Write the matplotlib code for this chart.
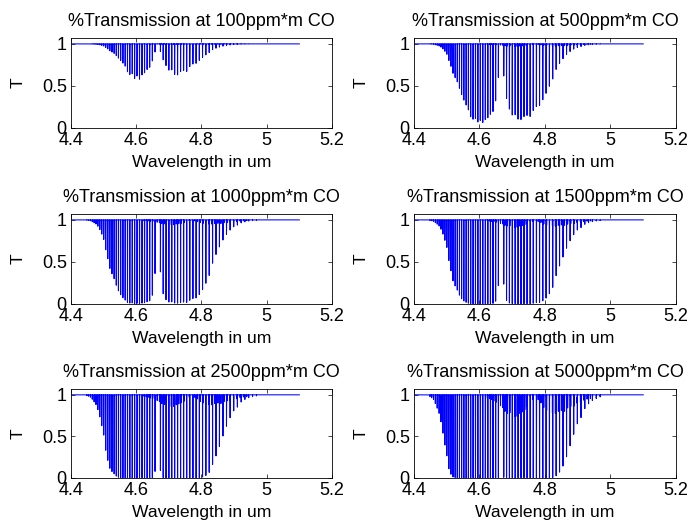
import numpy as np
import matplotlib
matplotlib.use('Agg')
from matplotlib import pyplot as plt

plt.rcParams['font.family'] = ['Liberation Sans', 'DejaVu Sans']
plt.rcParams['font.size'] = 13

# path concentration for each panel, ppm*m
conc = [100, 500, 1000, 1500, 2500, 5000]

# 12CO R branch, R(0)..R(31): line centre (um) and absorbance at 100 ppm*m
r_wl = [4.6576, 4.6493, 4.6412, 4.6333, 4.6254, 4.6177, 4.6100, 4.6024,
        4.5950, 4.5876, 4.5803, 4.5731, 4.5660, 4.5591, 4.5522, 4.5454,
        4.5387, 4.5321, 4.5256, 4.5191, 4.5128, 4.5065, 4.5004, 4.4943,
        4.4883, 4.4824, 4.4766, 4.4708, 4.4651, 4.4596, 4.4542, 4.4487]
r_abs = [0.115, 0.226, 0.326, 0.411, 0.477, 0.521, 0.544, 0.545,
         0.528, 0.496, 0.452, 0.402, 0.348, 0.294, 0.250, 0.210,
         0.170, 0.136, 0.116, 0.086, 0.062, 0.044, 0.030, 0.021,
         0.014, 0.0089, 0.0057, 0.0035, 0.0022, 0.0013, 0.0008, 0.0005]

# 12CO P branch, P(1)..P(30)
p_wl = [4.6741, 4.6826, 4.6913, 4.7000, 4.7088, 4.7177, 4.7267, 4.7359,
        4.7452, 4.7546, 4.7641, 4.7737, 4.7834, 4.7933, 4.8032, 4.8134,
        4.8236, 4.8339, 4.8444, 4.8550, 4.8658, 4.8766, 4.8876, 4.8987,
        4.9100, 4.9215, 4.9330, 4.9447, 4.9565, 4.9684]
p_abs = [0.109, 0.210, 0.298, 0.368, 0.419, 0.450, 0.460, 0.453,
         0.431, 0.397, 0.355, 0.310, 0.263, 0.218, 0.177, 0.140,
         0.108, 0.082, 0.060, 0.044, 0.031, 0.0215, 0.0146, 0.0097,
         0.0064, 0.0041, 0.0026, 0.0016, 0.0009, 0.0006]

# 13CO lines (weak, only seen at high concentration)
r13_wl = [4.7625, 4.7544, 4.7463, 4.7383, 4.7305, 4.7227, 4.7150, 4.7075,
          4.7000, 4.6926, 4.6853, 4.6781, 4.6711, 4.6641, 4.6572, 4.6504,
          4.6437, 4.6371, 4.6305, 4.6241, 4.6178]
r13_abs = [0.0013, 0.0025, 0.0036, 0.0045, 0.0052, 0.0057, 0.0060, 0.0060,
           0.0058, 0.0055, 0.0050, 0.0044, 0.0038, 0.0032, 0.0027, 0.0021,
           0.0017, 0.0013, 0.0010, 0.0007, 0.0005]
p13_wl = [4.7792, 4.7877, 4.7963, 4.8050, 4.8138, 4.8227, 4.8317, 4.8409,
          4.8501, 4.8596, 4.8691, 4.8786, 4.8884, 4.8982, 4.9082, 4.9183,
          4.9285, 4.9388]
p13_abs = [0.0012, 0.0023, 0.0033, 0.0041, 0.0046, 0.0049, 0.0051, 0.0050,
           0.0047, 0.0044, 0.0039, 0.0034, 0.0029, 0.0024, 0.0019, 0.0015,
           0.0012, 0.0009]

xticks = [4.4, 4.6, 4.8, 5.0, 5.2]
xticklabels = ['4.4', '4.6', '4.8', '5', '5.2']
yticks = [0, 0.5, 1]
yticklabels = ['0', '0.5', '1']

wl = np.array(r_wl + p_wl + r13_wl + p13_wl)
a100 = np.array(r_abs + p_abs + r13_abs + p13_abs)

# sampled spectrum, narrow gaussian lines
x = np.arange(4.4, 5.1 + 1e-9, 1.5e-4)
sig = 1.0e-4
prof = np.exp(-0.5 * ((x[:, None] - wl[None, :]) / sig) ** 2)
absorb = prof @ a100

W, H = 689, 529
fig = plt.figure(figsize=(W / 100, H / 100), dpi=100)

cols = [(71, 261), (414, 262)]
rows = [(38, 128), (214, 304), (389, 478)]

for k, c in enumerate(conc):
    l, w = cols[k % 2]
    t, b = rows[k // 2]
    ax = fig.add_axes([l / W, 1 - b / H, w / W, (b - t) / H])
    T = np.exp(-absorb * c / 100)
    ax.plot(x, T, color='blue', lw=0.75)
    ax.set_xlim(4.4, 5.2)
    ax.set_ylim(0, 1.07)
    ax.set_xticks(xticks)
    ax.set_xticklabels(xticklabels, fontsize=13)
    ax.set_yticks(yticks)
    ax.set_yticklabels(yticklabels, fontsize=13)
    ax.tick_params(direction='in', top=True, right=True, length=3,
                   width=0.5, pad=3)
    for s in ax.spines.values():
        s.set_linewidth(0.6)
    ax.set_title(f'%Transmission at {c}ppm*m CO', fontsize=13, pad=8.5)
    ax.set_xlabel('Wavelength in um', fontsize=12.6, labelpad=4)
    ax.set_ylabel('T', fontsize=12.6, labelpad=12)

fig.savefig('out.png', dpi=100)
